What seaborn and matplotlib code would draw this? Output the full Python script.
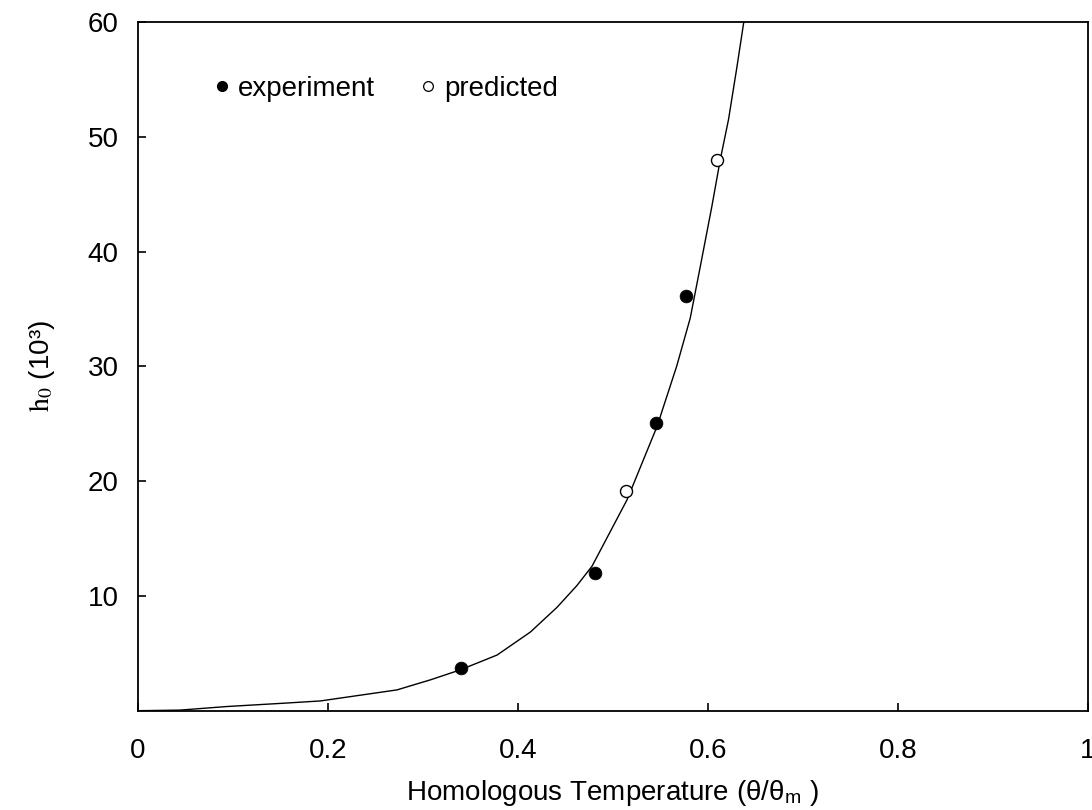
import matplotlib
matplotlib.use("Agg")
import matplotlib.pyplot as plt
import seaborn as sns
from matplotlib.lines import Line2D

# Fitted curve
curve_x = [0.0, 0.044, 0.093, 0.128, 0.153, 0.192, 0.2725, 0.3075, 0.339, 0.378,
           0.413, 0.441, 0.462, 0.478, 0.5147, 0.5463, 0.567, 0.5813,
           0.5919, 0.604, 0.6129, 0.6216, 0.6305, 0.6375, 0.640]
curve_h = [0.0, 0.05, 0.36, 0.53, 0.65, 0.85, 1.81, 2.68, 3.55, 4.85,
           6.85, 9.0, 10.9, 12.6, 18.36, 24.75, 30.0, 34.2,
           38.7, 43.9, 48.0, 51.5, 56.1, 59.9, 61.0]

# Experimental points
exp_x = [0.340, 0.481, 0.545, 0.577]
exp_h = [3.7, 12.0, 25.1, 36.1]

# Predicted points
pred_x = [0.514, 0.610]
pred_h = [19.1, 48.0]

xticks = [0, 0.2, 0.4, 0.6, 0.8, 1.0]
xtick_labels = ["0", "0.2", "0.4", "0.6", "0.8", "1"]
yticks = [10, 20, 30, 40, 50, 60]

sns.set_style("ticks")
plt.rcParams["font.family"] = ["Liberation Sans", "DejaVu Sans"]
plt.rcParams["mathtext.fontset"] = "stix"
plt.rcParams["text.color"] = "black"
plt.rcParams["axes.labelcolor"] = "black"
plt.rcParams["xtick.color"] = "black"
plt.rcParams["ytick.color"] = "black"

fig = plt.figure(figsize=(10.92, 8.10), dpi=100)
ax = fig.add_axes([0.1264, 0.1226, 0.8699, 0.8502])

sns.lineplot(x=curve_x, y=curve_h, ax=ax, color="black", linewidth=1.0,
             sort=False, estimator=None)
sns.scatterplot(x=exp_x, y=exp_h, ax=ax, color="black", s=85,
                edgecolor="black", linewidth=0.5, zorder=3)
sns.scatterplot(x=pred_x, y=pred_h, ax=ax, facecolor="white", s=75,
                edgecolor="black", linewidth=1.0, zorder=3)

ax.set_xlim(0, 1)
ax.set_ylim(0, 60)
ax.set_xticks(xticks)
ax.set_xticklabels(xtick_labels)
ax.set_yticks(yticks)
ax.tick_params(axis="x", direction="in", length=6, width=1.2, pad=20,
               labelsize=20, colors="black")
ax.tick_params(axis="y", direction="in", length=6, width=1.2, pad=14,
               labelsize=20, colors="black")
for sp in ax.spines.values():
    sp.set_visible(True)
    sp.set_linewidth(1.3)
    sp.set_color("black")

ax.set_xlabel("Homologous Temperature (θ/θ$_{\\mathregular{m}}$ )", fontsize=20,
              labelpad=10)
ax.set_ylabel(r"$\mathrm{h}_0$ (10³)", fontsize=20, labelpad=22)

handles = [
    Line2D([], [], marker="o", linestyle="none", markerfacecolor="black",
           markeredgecolor="black", markersize=7),
    Line2D([], [], marker="o", linestyle="none", markerfacecolor="white",
           markeredgecolor="black", markersize=7, markeredgewidth=0.9),
]
ax.legend(handles, ["experiment", "predicted"], ncol=2, frameon=False,
          loc="upper left", bbox_to_anchor=(0.047, 0.958), fontsize=20,
          handletextpad=0.1, columnspacing=1.4, handlelength=1.0)

fig.savefig("out.png", dpi=100)
